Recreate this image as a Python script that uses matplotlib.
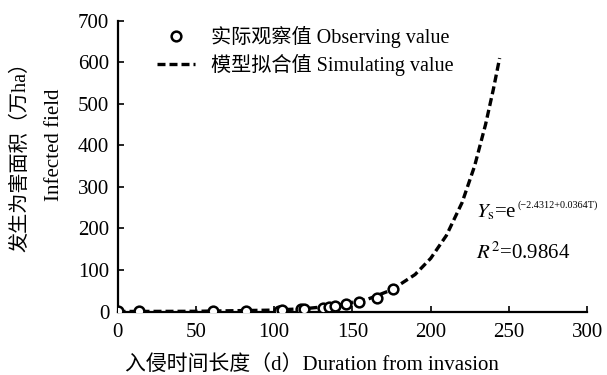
"""Infected field vs. duration from invasion — observed points and exponential fit."""

import matplotlib
matplotlib.use('Agg')
import matplotlib.pyplot as plt

# ─── Data ───
obs_days = [0, 14, 61, 82, 103, 105, 117, 119, 131, 135, 139, 146, 154, 166, 176]
obs_area = [0.3, 0.3, 0.5, 1, 2, 3, 5, 6, 8, 10, 13, 18, 23, 32, 53]

sim_days = [0, 50, 100, 120, 140, 160, 175, 190, 200, 210, 220, 228, 235, 240, 244]
sim_area = [0.1, 0.5, 3.4, 7, 14.5, 30, 52, 89, 128, 183, 262, 350, 450, 535, 610]

x_ticks = [0, 50, 100, 150, 200, 250, 300]
y_ticks = [0, 100, 200, 300, 400, 500, 600, 700]

FONT = ['Liberation Serif', 'Noto Sans CJK SC']
plt.rcParams['font.family'] = FONT
plt.rcParams['mathtext.fontset'] = 'stix'

fig = plt.figure(figsize=(6.07, 3.75), dpi=100)
ax = fig.add_axes([0.1936, 0.1693, 0.774, 0.7755])

ax.plot(sim_days, sim_area, color='black', lw=2.4, dashes=(2.4, 1.2),
        label='模型拟合值 Simulating value', zorder=2)
ax.plot(obs_days, obs_area, 'o', ms=7, mfc='white', mec='black', mew=1.8,
        label='实际观察值 Observing value', zorder=3)

ax.set_xlim(0, 300)
ax.set_ylim(0, 700)
ax.set_xticks(x_ticks)
ax.set_yticks(y_ticks)
ax.tick_params(direction='in', length=4, width=1.2, labelsize=15)
ax.tick_params(axis='x', pad=8)
ax.tick_params(axis='y', pad=6)
for s in ('top', 'right'):
    ax.spines[s].set_visible(False)
for s in ('left', 'bottom'):
    ax.spines[s].set_linewidth(1.6)

handles, labels = ax.get_legend_handles_labels()
ax.legend(handles[::-1], labels[::-1], loc='upper left', bbox_to_anchor=(0.045, 1.045),
          frameon=False, fontsize=14.5, handlelength=1.9, handletextpad=0.8,
          labelspacing=0.3)

# fitted equation: large base, small exponent
eq = ax.text(229, 238, r'$Y_{\mathrm{s}}$=e', fontsize=15, va='center', ha='left')
fig.canvas.draw()
bb = eq.get_window_extent()
fig.text(bb.x1 / fig.bbox.width + 0.001, (bb.y1 - 2) / fig.bbox.height,
         '(−2.4312+0.0364T)', fontsize=7.3, va='center', ha='left')
ax.text(229, 141, r'$R^2$=0.9864', fontsize=15, va='center', ha='left')

fig.text(0.514, 0.027, '入侵时间长度（d）Duration from invasion', fontsize=15,
         ha='center', va='center')
fig.text(0.034, 0.595, '发生为害面积（万ha）', rotation=90, fontsize=14.5,
         ha='center', va='center')
fig.text(0.090, 0.613, 'Infected field', rotation=90, fontsize=15,
         ha='center', va='center')

fig.savefig('out.png', dpi=100)
